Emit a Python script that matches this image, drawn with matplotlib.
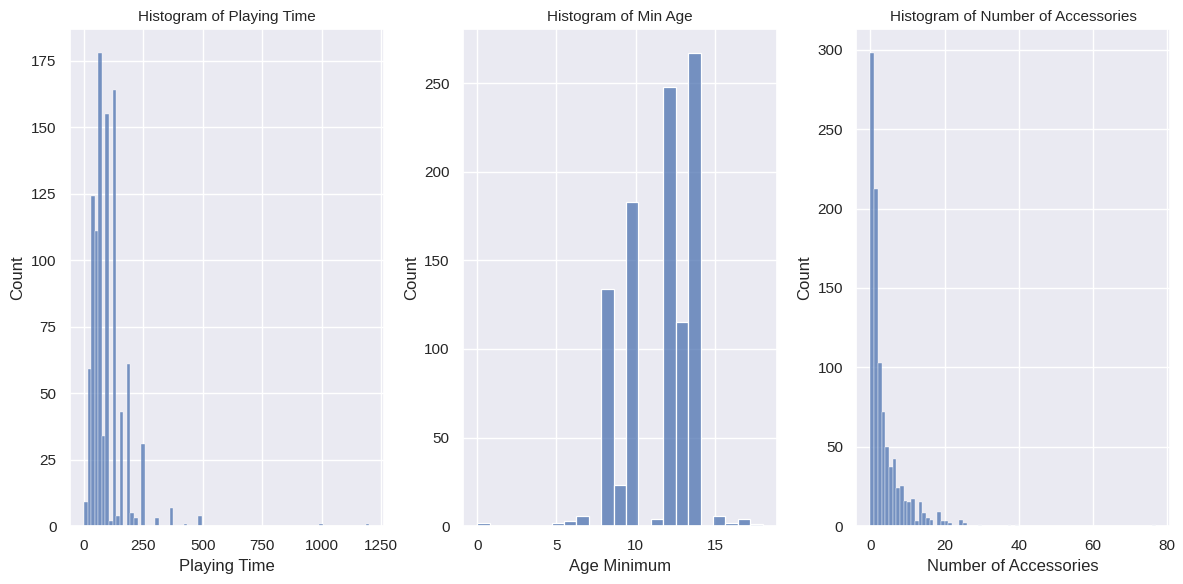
import matplotlib
matplotlib.use("Agg")
import matplotlib.pyplot as plt
import seaborn as sns
import numpy as np
import pandas as pd

# bin counts
play_range = (0, 1200)
play_counts = [9, 59, 124, 111, 178, 34, 155, 2, 164, 4,
               43, 0, 61, 5, 3, 0, 31, 0, 0, 0,
               3, 0, 0, 0, 7, 0, 0, 0, 1, 0,
               0, 0, 4] + [0] * 33 + [1] + [0] * 12 + [1]

age_range = (0, 18)
age_counts = [2, 0, 0, 0, 0, 0, 2, 3, 6, 0,
              134, 23, 183, 0, 4, 248, 115, 267, 0, 6,
              2, 4, 1]

acc_range = (0, 77)
acc_counts = [298, 212, 103, 72, 50, 37, 42, 24, 25, 16,
              15, 17, 3, 15, 8, 5, 4, 0, 9, 3,
              3, 2, 0, 0, 4, 2, 0, 0, 0, 1,
              0, 0, 0, 0, 0, 0, 0, 1, 0, 1] + [0] * 36 + [1]

titles = ["Histogram of Playing Time", "Histogram of Min Age",
          "Histogram of Number of Accessories"]
xlabels = ["Playing Time", "Age Minimum", "Number of Accessories"]

sns.set_theme()
plt.rcParams['font.family'] = ['Liberation Sans', 'DejaVu Sans']

fig, axes = plt.subplots(1, 3, figsize=(11.83, 5.84), dpi=100)
fig.subplots_adjust(left=0.059, right=0.989, top=0.95, bottom=0.099, wspace=0.253)

for ax, counts, rng, title, xlabel in zip(
        axes, [play_counts, age_counts, acc_counts],
        [play_range, age_range, acc_range], titles, xlabels):
    edges = np.linspace(rng[0], rng[1], len(counts) + 1)
    df = pd.DataFrame({"x": (edges[:-1] + edges[1:]) / 2, "w": counts})
    sns.histplot(data=df, x="x", weights="w", bins=len(counts), binrange=rng, ax=ax)
    ax.set_title(title, fontsize=11)
    ax.set_xlabel(xlabel)
    ax.set_ylabel("Count")

plt.savefig("out.png")
